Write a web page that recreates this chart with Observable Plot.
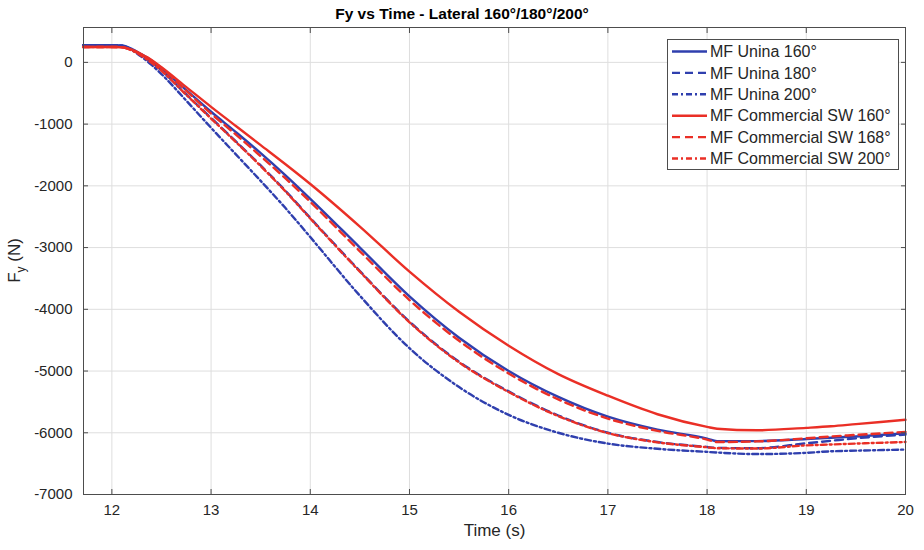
<!DOCTYPE html>
<html><head><meta charset="utf-8">
<script src="https://cdn.jsdelivr.net/npm/d3@7"></script>
<script src="https://cdn.jsdelivr.net/npm/@observablehq/plot@0.6"></script>
<style>
body{margin:0;background:#fff;font-family:Arial,"Liberation Sans",Helvetica,sans-serif;}
#wrap{position:relative;width:924px;height:550px;overflow:hidden;}
#title{height:24px;line-height:28px;text-align:center;font-weight:bold;font-size:15.5px;color:#000;}
#legend{position:absolute;left:667px;top:39px;width:232px;height:131px;background:#fff;border:1px solid #4d4d4d;box-sizing:border-box;}
#legend svg{display:block;}
</style></head><body>
<div id="wrap"><div id="title">Fy vs Time - Lateral 160°/180°/200°</div><div id="chart"></div><div id="legend"></div></div>
<script>
// ---- data ----
const time = [11.71, 12.0, 12.1, 12.2, 12.3, 12.4, 12.5, 12.75, 13.0, 13.25, 13.5, 13.75, 14.0, 14.5, 15.0, 15.5, 16.0, 16.5, 17.0, 17.5, 18.0, 18.1, 18.5, 19.0, 19.25, 19.5, 20.0];
const unina160 = [280, 280, 275, 220, 130, 30, -100, -450, -800, -1130, -1470, -1830, -2210, -3000, -3790, -4460, -5000, -5420, -5740, -5950, -6094, -6137, -6135, -6100, -6080, -6060, -6010];
const unina180 = [280, 280, 270, 210, 110, 0, -130, -520, -900, -1280, -1670, -2080, -2520, -3380, -4200, -4850, -5330, -5720, -6000, -6150, -6230, -6245, -6250, -6170, -6130, -6090, -6030];
const unina200 = [280, 280, 270, 200, 90, -40, -190, -620, -1060, -1490, -1920, -2360, -2830, -3780, -4630, -5260, -5710, -6000, -6175, -6260, -6310, -6320, -6345, -6325, -6300, -6290, -6272];
const comm160 = [250, 250, 245, 205, 130, 40, -80, -400, -720, -1030, -1340, -1650, -1970, -2660, -3390, -4040, -4590, -5050, -5400, -5700, -5905, -5935, -5960, -5920, -5895, -5860, -5790];
const comm168 = [250, 250, 245, 200, 120, 25, -90, -460, -830, -1170, -1520, -1880, -2260, -3060, -3850, -4510, -5040, -5460, -5770, -5970, -6110, -6150, -6140, -6090, -6060, -6035, -5985];
const comm200 = [250, 250, 245, 195, 105, -5, -135, -525, -910, -1290, -1680, -2090, -2530, -3390, -4210, -4860, -5340, -5730, -6005, -6155, -6235, -6250, -6255, -6205, -6190, -6175, -6150];
const seriesNames = ["MF Unina 160°", "MF Unina 180°", "MF Unina 200°", "MF Commercial SW 160°", "MF Commercial SW 168°", "MF Commercial SW 200°"];
const xTicks = [12, 13, 14, 15, 16, 17, 18, 19, 20];
const yTicks = [-7000, -6000, -5000, -4000, -3000, -2000, -1000, 0];

// ---- styles ----
const BLUE = "#2f3fae", RED = "#ea2f26";
const seriesValues = [unina160, unina180, unina200, comm160, comm168, comm200];
const seriesStyle = [
  {stroke: BLUE, dash: null},
  {stroke: BLUE, dash: "8,5"},
  {stroke: BLUE, dash: "6,3,2,3"},
  {stroke: RED, dash: null},
  {stroke: RED, dash: "8,5"},
  {stroke: RED, dash: "6,3,2,3"}
];
const LW = 2.4;
const table = seriesValues.map((vals) => time.map((t, i) => ({t, v: vals[i]})));

const lineMarks = table.map((rows, k) => Plot.line(rows, {
  x: "t", y: "v", stroke: seriesStyle[k].stroke, strokeWidth: LW,
  strokeDasharray: seriesStyle[k].dash, curve: "monotone-x"
}));

const AX = "#4d4d4d", TXT = "#262626";
const fmt = (d) => String(d);
const svg = Plot.plot({
  width: 924, height: 526,
  marginLeft: 83, marginRight: 19, marginTop: 3, marginBottom: 56,
  style: {fontFamily: "Arial, 'Liberation Sans', Helvetica, sans-serif", fontSize: "15px", color: TXT, background: "#fff"},
  x: {domain: [11.714, 20]},
  y: {domain: [-7000, 565]},
  marks: [
    Plot.gridX(xTicks, {stroke: "#dedede", strokeOpacity: 1}),
    Plot.gridY(yTicks, {stroke: "#dedede", strokeOpacity: 1}),
    ...lineMarks,
    Plot.frame({stroke: AX}),
    Plot.axisX(xTicks, {anchor: "bottom", tickSize: 5, dy: -5, text: null, label: null, stroke: AX}),
    Plot.axisX(xTicks, {anchor: "top", tickSize: 5, dy: 5, text: null, label: null, stroke: AX}),
    Plot.axisY(yTicks, {anchor: "left", tickSize: 5, dx: 5, text: null, label: null, stroke: AX}),
    Plot.axisY(yTicks, {anchor: "right", tickSize: 5, dx: -5, text: null, label: null, stroke: AX}),
    Plot.axisX(xTicks, {anchor: "bottom", tickSize: 0, tickPadding: 10, fontSize: 15, fill: TXT, label: null, tickFormat: fmt}),
    Plot.axisY(yTicks, {anchor: "left", tickSize: 0, tickPadding: 11, fontSize: 15, fill: TXT, label: null, tickFormat: fmt}),
    Plot.text(["Time (s)"], {frameAnchor: "bottom", dy: 41, fontSize: 17, fill: TXT})
  ]
});
document.getElementById("chart").appendChild(svg);

// y-axis label with subscript
const yl = d3.select(svg).append("text")
  .attr("transform", "translate(20,236.5) rotate(-90)")
  .attr("text-anchor", "middle")
  .attr("fill", TXT)
  .style("font-size", "17px")
  .style("font-family", "Arial, 'Liberation Sans', Helvetica, sans-serif");
yl.append("tspan").text("F");
yl.append("tspan").attr("dy", 5).style("font-size", "12px").text("y");
yl.append("tspan").attr("dy", -5).text(" (N)");

// legend
const lg = d3.select("#legend").append("svg").attr("width", 230).attr("height", 129);
seriesNames.forEach((name, k) => {
  const cy = 11.5 + k * 21.4;
  lg.append("line").attr("x1", 4).attr("x2", 39).attr("y1", cy).attr("y2", cy)
    .attr("stroke", seriesStyle[k].stroke).attr("stroke-width", LW)
    .attr("stroke-dasharray", seriesStyle[k].dash);
  lg.append("text").attr("x", 42).attr("y", cy).attr("dy", "0.35em")
    .attr("fill", TXT).style("font-size", "16px")
    .style("font-family", "Arial, 'Liberation Sans', Helvetica, sans-serif")
    .text(name);
});
</script>
</body></html>
